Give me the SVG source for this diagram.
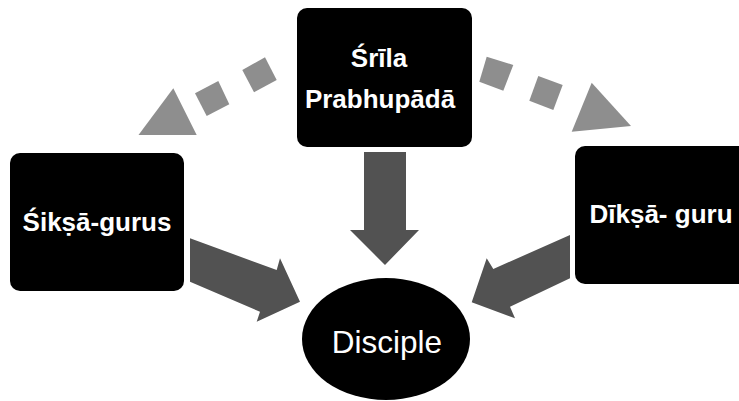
<svg xmlns="http://www.w3.org/2000/svg" width="739" height="401" viewBox="0 0 739 401">
<style>
.box{fill:#000}
.lbl{fill:#fff;font-family:"Liberation Sans",Arial,sans-serif;font-weight:bold;font-size:26px;text-anchor:middle}
.dis{fill:#fff;font-family:"Liberation Sans",Arial,sans-serif;font-size:31.5px;text-anchor:middle}
.dark{fill:#525252}
.light{fill:#8e8e8e}
</style>
<rect width="739" height="401" fill="#fff"/>
<g id="connectors">
<g id="dashed-left">
<polygon class="light" points="138.5,135 196.7,135 173.3,88.3"/>
<polygon class="light" points="195,93.3 218.3,81 229.3,104.3 206.7,116"/>
<polygon class="light" points="242.3,70 265,57.3 276.7,80 254,92.3"/>
</g>
<g id="dashed-right">
<polygon class="light" points="486.7,56.7 513.3,65 503.3,90.7 479.3,81.7"/>
<polygon class="light" points="538.3,76 562.7,85 553.3,110 529.3,100.7"/>
<polygon class="light" points="591.7,82.7 631,126 571.7,131.7"/>
</g>
<polygon id="arrow-down" class="dark" points="364,152 406,152 406,230 419,230 385,265 350,230 364,230"/>
<polygon id="arrow-left" class="dark" points="190,238.3 276.7,270 280,258.3 300,301.7 256.7,321.7 260,311.7 190,281.7"/>
<polygon id="arrow-right" class="dark" points="570,235 570,278.3 510,306.7 515,318.3 471.7,302.3 486.7,258.3 493.3,269"/>
</g>
<g id="node-prabhupada">
<rect class="box" x="297" y="8" width="175" height="139" rx="10"/>
<text class="lbl" x="379" y="67">Śrīla</text>
<text class="lbl" x="380" y="108">Prabhupādā</text>
</g>
<g id="node-siksa">
<rect class="box" x="10" y="153" width="174" height="138" rx="10"/>
<text class="lbl" x="97" y="231">Śikṣā-gurus</text>
</g>
<g id="node-diksa">
<rect class="box" x="575" y="146" width="180" height="138" rx="10"/>
<text class="lbl" x="661" y="223">Dīkṣā- guru</text>
</g>
<g id="node-disciple">
<ellipse class="box" cx="386" cy="339" rx="84" ry="61"/>
<text class="dis" x="387" y="353">Disciple</text>
</g>
</svg>
